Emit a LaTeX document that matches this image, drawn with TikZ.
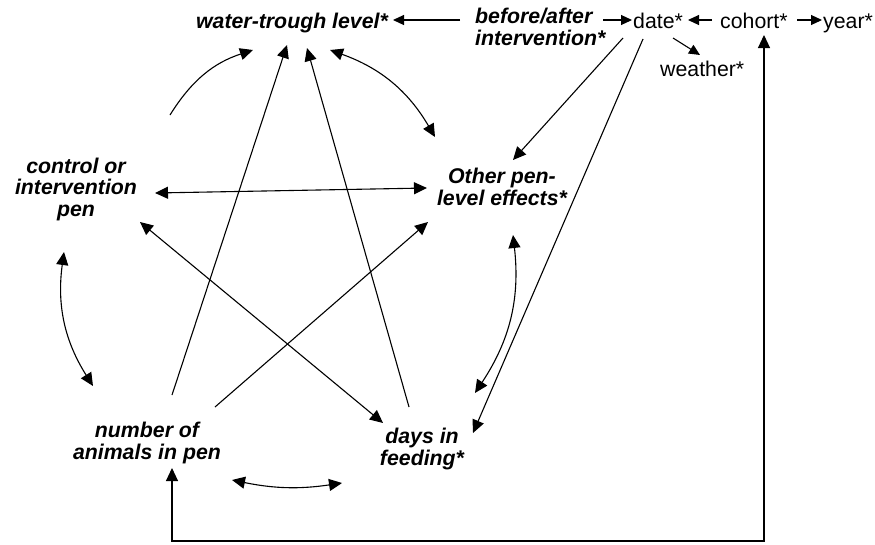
\documentclass[tikz,border=0pt]{standalone}
\usepackage{fontspec}
\setmainfont{Liberation Sans}
\usetikzlibrary{arrows.meta,calc}
\tikzset{
  lbl/.style={font=\bfseries\itshape\fontsize{21.3}{21.5}\selectfont, inner sep=0pt, align=center},
  plain/.style={font=\fontsize{21.3}{21.5}\selectfont, inner sep=0pt},
  con/.style={line width=1.1pt, -{Triangle[length=13pt,width=12pt]}},
  bicon/.style={line width=1.1pt, {Triangle[length=13pt,width=12pt]}-{Triangle[length=13pt,width=12pt]}},
  smallcon/.style={line width=1.1pt, -{Triangle[length=11pt,width=10pt]}},
}
\begin{document}
\begin{tikzpicture}[x=1pt,y=-1pt]
\useasboundingbox (0,0) rectangle (875,544);
% nodes (base = baseline of the last line)
\node[lbl,anchor=base] (wt) at (292,28) {water-trough level*};
\node[lbl,anchor=base west,align=left] (ba) at (475,45) {before/after\\intervention*};
\node[plain,anchor=base west] (date) at (633,28) {date*};
\node[plain,anchor=base west] (coh) at (720,28) {cohort*};
\node[plain,anchor=base west] (year) at (823,28) {year*};
\node[plain,anchor=base west] (wea) at (660,76) {weather*};
\node[lbl,anchor=base] (ctrl) at (76,216) {control or\\intervention\\pen};
\node[lbl,anchor=base] (oth) at (502,205) {Other pen-\\level effects*};
\node[lbl,anchor=base] (num) at (147,459) {number of\\animals in pen};
\node[lbl,anchor=base] (days) at (422,465) {days in\\feeding*};
% top row connectors
\draw[smallcon] ($(ba.base west)+(-15,-25)$) -- ($(wt.base)+(101,-8)$);
\draw[smallcon] ($(ba.base west)+(128,-25)$) -- ($(date.base west)+(-1,-8)$);
\draw[smallcon] ($(coh.base west)+(-8,-8)$) -- ($(date.base west)+(55,-8)$);
\draw[smallcon] ($(coh.base west)+(77,-8)$) -- ($(year.base west)+(-1,-8)$);
\draw[smallcon] ($(date.base west)+(40,10)$) -- ($(wea.base west)+(40,-21)$);
\draw[con] ($(date.base west)+(-10,10)$) -- ($(oth.base)+(11,-45)$);
\draw[con] ($(date.base west)+(10,11)$) -- ($(days.base)+(51,-32)$);
% long loop between number of animals and cohort
\draw[bicon] ($(num.base)+(25,9)$) |- ($(coh.base west)+(44,513)$) -- ($(coh.base west)+(44,7)$);
% star connectors
\draw[con] ($(ctrl.base)+(94,-101)$) to[bend left=20] ($(wt.base)+(-39,22)$);
\draw[con] ($(num.base)+(25,-64)$) -- ($(wt.base)+(-5,17)$);
\draw[con] ($(days.base)+(-13,-58)$) -- ($(wt.base)+(15,20)$);
\draw[bicon] ($(wt.base)+(38,22)$) to[bend left=20] ($(oth.base)+(-67,-68)$);
\draw[bicon] ($(ctrl.base)+(79,-23)$) -- ($(oth.base)+(-75,-17)$);
\draw[bicon] ($(ctrl.base)+(64,6)$) -- ($(days.base)+(-39,-42)$);
\draw[con] ($(num.base)+(68,-52)$) -- ($(oth.base)+(-74,17)$);
\draw[bicon] ($(ctrl.base)+(-12,36)$) to[bend right=20] ($(num.base)+(-54,-73)$);
\draw[bicon] ($(oth.base)+(11,30)$) to[bend left=20] ($(days.base)+(53,-72)$);
\draw[bicon] ($(num.base)+(85,21)$) to[bend right=10] ($(days.base)+(-80,18)$);
\end{tikzpicture}
\end{document}
